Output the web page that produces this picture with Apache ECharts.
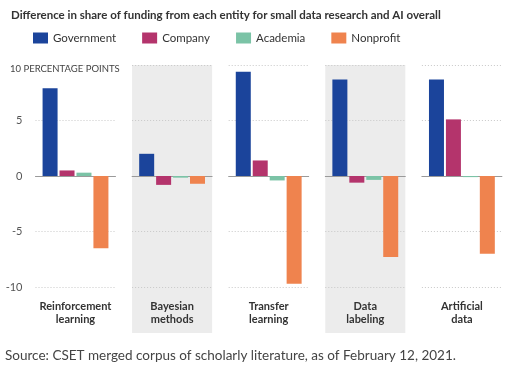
<!DOCTYPE html>
<html><head><meta charset="utf-8">
<script src="https://cdn.jsdelivr.net/npm/echarts@6/dist/echarts.min.js"></script>
<style>html,body{margin:0;padding:0;background:#fff}#c{width:511px;height:373px}</style>
</head><body><div id="c"></div>
<script>
const categories = ['Reinforcement\nlearning', 'Bayesian\nmethods', 'Transfer\nlearning', 'Data\nlabeling', 'Artificial\ndata'];
const seriesNames = ['Government', 'Company', 'Academia', 'Nonprofit'];
const government = [7.9, 2.0, 9.4, 8.7, 8.7];
const company = [0.5, -0.8, 1.4, -0.6, 5.1];
const academia = [0.3, -0.15, -0.4, -0.35, -0.1];
const nonprofit = [-6.5, -0.7, -9.7, -7.3, -7.0];
const yMin = -10, yMax = 10, yInterval = 5;
const topTickLabel = '10 PERCENTAGE POINTS';
const titleText = 'Difference in share of funding from each entity for small data research and AI overall';
const sourceText = 'Source: CSET merged corpus of scholarly literature, as of February 12, 2021.';

const values = [government, company, academia, nonprofit];
const colors = ['#1b449b', '#b4346c', '#7bc3a6', '#ef834e'];
const shaded = [false, true, false, true, false];
const FONT = 'Lato';
const panelW = 80, panelStep = 96.6, firstLeft = 35.5, gridTop = 65, gridBottom = 86;

const grid = [], xAxis = [], yAxis = [], series = [], graphics = [];
categories.forEach((cat, i) => {
  const left = firstLeft + i * panelStep;
  grid.push({left: left, width: panelW, top: gridTop, bottom: gridBottom, containLabel: false});
  xAxis.push({type: 'category', gridIndex: i, data: [cat], position: 'bottom',
    axisLine: {show: true, onZero: true, lineStyle: {color: '#9a9a9a', width: 1}},
    axisTick: {show: false}, axisLabel: {show: false}, splitLine: {show: false}});
  xAxis.push({type: 'category', gridIndex: i, data: [cat], position: 'bottom',
    axisLine: {show: false, onZero: false}, axisTick: {show: false},
    axisLabel: {show: true, margin: 13, fontFamily: FONT, fontWeight: 'bold', fontSize: 11, lineHeight: 13, color: '#333'},
    splitLine: {show: false}});
  yAxis.push({type: 'value', gridIndex: i, min: yMin, max: yMax, interval: yInterval,
    axisLine: {show: false}, axisTick: {show: false},
    axisLabel: {show: i === 0, margin: 13, fontFamily: FONT, fontSize: 11, color: '#555',
      formatter: v => (v === yMax ? '' : String(v))},
    splitLine: {show: true, lineStyle: {color: '#c8c8c8', type: [1, 2], width: 1}}});
  values.forEach((arr, s) => {
    series.push({type: 'bar', name: seriesNames[s], xAxisIndex: i * 2, yAxisIndex: i,
      data: [arr[i]], barWidth: 15, barGap: '13%', itemStyle: {color: colors[s]}, z: 3});
  });
  if (shaded[i]) {
    graphics.push({type: 'rect', z: -10, silent: true,
      shape: {x: left, y: gridTop, width: panelW, height: 268}, style: {fill: '#ececec'}});
  }
});

const chart = echarts.init(document.getElementById('c'), null, {renderer: 'canvas'});
chart.setOption({
  animation: false,
  backgroundColor: '#fff',
  color: colors,
  title: [
    {text: titleText, left: 6, top: 4, textStyle: {fontFamily: FONT, fontSize: 11.5, fontWeight: 'bold', color: '#333'}},
    {text: topTickLabel, left: 5, top: 59, textStyle: {fontFamily: FONT, fontSize: 9.5, fontWeight: 'normal', color: '#444'}},
    {text: sourceText, left: 0, top: 344, textStyle: {fontFamily: FONT, fontSize: 13.5, fontWeight: 'normal', color: '#444'}}
  ],
  legend: {data: seriesNames, left: 28, top: 27, icon: 'rect', itemWidth: 15, itemHeight: 11, itemGap: 26,
    textStyle: {fontFamily: FONT, fontSize: 11.5, color: '#333'}},
  grid: grid, xAxis: xAxis, yAxis: yAxis, series: series,
  graphic: {elements: graphics}
});
</script></body></html>
